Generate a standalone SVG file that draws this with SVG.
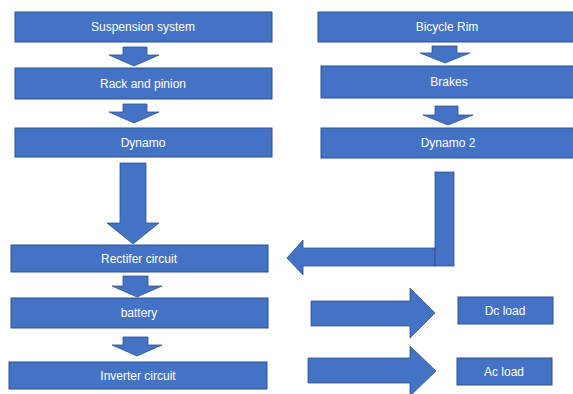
<svg xmlns="http://www.w3.org/2000/svg" width="573" height="394" viewBox="0 0 573 394">
<style>
.box{fill:#4472C4;stroke:#2F528F;stroke-width:1}
.arr{fill:#4472C4;stroke:#2F528F;stroke-width:0.8}
.t{fill:#FFFFFF;font-family:"Liberation Sans",Arial,sans-serif;font-size:12px;text-anchor:middle;dominant-baseline:central}
</style>
<rect width="573" height="394" fill="#FFFFFF"/>
<g id="connectors">
<polygon class="arr" points="123,47 147,47 147,55 159,55 134,66 109,55 123,55"/>
<polygon class="arr" points="123,104 147,104 147,112 159,112 134,123 109,112 123,112"/>
<polygon class="arr" points="120,163 146,163 146,223 159,223 133,244 107,223 120,223"/>
<polygon class="arr" points="123,276 148,276 148,286 162,286 137,297 112,286 123,286"/>
<polygon class="arr" points="123,337 148,337 148,345 162,345 137,356 112,345 123,345"/>
<polygon class="arr" points="432,46 457,46 457,53 470,53 445,63 420,53 432,53"/>
<polygon class="arr" points="435,106 458,106 458,115 473,115 448,125 423,115 435,115"/>
<polygon class="arr" points="287,258 303,240 303,248 435,248 435,266 303,266 303,275"/>
<rect class="arr" x="435" y="172" width="19" height="94"/>
<polygon class="arr" points="311,301 410,301 410,288 435,313 410,338 410,326 311,326"/>
<polygon class="arr" points="308,358 410,358 410,346 436,371 410,396 410,383 308,383"/>
</g>
<g id="suspension"><rect class="box" x="15" y="12" width="257" height="30"/><text class="t" x="143" y="27">Suspension system</text></g>
<g id="rack"><rect class="box" x="15" y="68" width="257" height="31"/><text class="t" x="143" y="83.5">Rack and pinion</text></g>
<g id="dynamo"><rect class="box" x="15" y="128" width="257" height="29"/><text class="t" x="143" y="142.5">Dynamo</text></g>
<g id="rim"><rect class="box" x="318" y="12" width="260" height="30"/><text class="t" x="447" y="27">Bicycle Rim</text></g>
<g id="brakes"><rect class="box" x="321" y="66" width="257" height="32"/><text class="t" x="449" y="82">Brakes</text></g>
<g id="dynamo2"><rect class="box" x="321" y="128" width="257" height="30"/><text class="t" x="448" y="143">Dynamo 2</text></g>
<g id="rectifier"><rect class="box" x="11" y="245" width="257" height="27"/><text class="t" x="139" y="258.5">Rectifer circuit</text></g>
<g id="battery"><rect class="box" x="11" y="298" width="257" height="30"/><text class="t" x="139" y="313">battery</text></g>
<g id="inverter"><rect class="box" x="9" y="362" width="258" height="27"/><text class="t" x="138" y="375.5">Inverter circuit</text></g>
<g id="dcload"><rect class="box" x="458" y="297" width="95" height="27"/><text class="t" x="505" y="310.5">Dc load</text></g>
<g id="acload"><rect class="box" x="457" y="358" width="95" height="27"/><text class="t" x="504" y="371.5">Ac load</text></g>
</svg>
